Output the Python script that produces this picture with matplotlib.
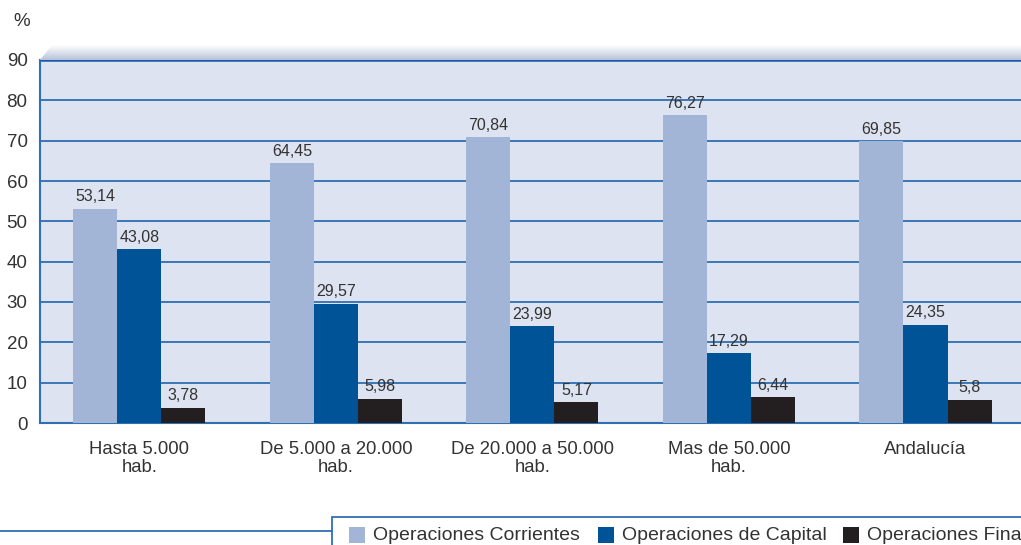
import numpy as np
import matplotlib
matplotlib.use("Agg")
import matplotlib.pyplot as plt
from matplotlib.patches import Rectangle, Polygon
from matplotlib.lines import Line2D

plt.rcParams['font.family'] = ['Liberation Sans', 'DejaVu Sans']

# Data
categories = ["Hasta 5.000\nhab.", "De 5.000 a 20.000\nhab.", "De 20.000 a 50.000\nhab.",
              "Mas de 50.000\nhab.", "Andalucía"]
series_names = ["Operaciones Corrientes", "Operaciones de Capital", "Operaciones Financieras"]
corrientes = [53.14, 64.45, 70.84, 76.27, 69.85]
capital = [43.08, 29.57, 23.99, 17.29, 24.35]
financieras = [3.78, 5.98, 5.17, 6.44, 5.8]
value_text = [["53,14", "64,45", "70,84", "76,27", "69,85"],
              ["43,08", "29,57", "23,99", "17,29", "24,35"],
              ["3,78", "5,98", "5,17", "6,44", "5,8"]]
yticks = [0, 10, 20, 30, 40, 50, 60, 70, 80, 90]

colors = ["#a3b5d7", "#005397", "#231f20"]
grid_blue = "#2f6fb3"
wall = "#dde3f0"
text_col = "#333333"

W, H = 1021, 545
fig = plt.figure(figsize=(W / 100, H / 100), dpi=100)

def fx(px):
    return px / W

def fy(py):
    return 1 - py / H

ax = fig.add_axes([fx(40), fy(423), 1 - fx(40), fy(60) - fy(423)])
ax.set_facecolor(wall)

x = np.arange(len(categories))
width = 0.224
all_series = [corrientes, capital, financieras]
for i, (vals, c) in enumerate(zip(all_series, colors)):
    pos = x + (i - 1) * width
    bars = ax.bar(pos, vals, width, color=c, zorder=3)
    for b, v, t in zip(bars, vals, value_text[i]):
        ax.text(b.get_x() + b.get_width() / 2, v + 1.1, t, ha='center', va='bottom',
                fontsize=11.5, color=text_col, zorder=4)

ax.set_xlim(-0.506, 4.486)
ax.set_ylim(0, 90)
ax.set_yticks(yticks)
ax.set_yticklabels([str(t) for t in yticks], fontsize=13.5, color=text_col)
ax.set_xticks(x)
ax.set_xticklabels(categories, fontsize=13.3, color=text_col, linespacing=1.1)
ax.tick_params(axis='both', length=0)
ax.tick_params(axis='y', pad=9)
ax.tick_params(axis='x', pad=13)
ax.yaxis.grid(True, color=grid_blue, linewidth=1.3, zorder=1)
ax.set_axisbelow(True)
for s in ['top', 'right']:
    ax.spines[s].set_visible(False)
for s in ['left', 'bottom']:
    ax.spines[s].set_color(grid_blue)
    ax.spines[s].set_linewidth(1.5)
ax.axhline(90, color="#1a5ca8", linewidth=1.8, zorder=2)

# Top slanted edge of the wall with gradient
top = fig.add_axes([fx(40), fy(60), 1 - fx(40), fy(45) - fy(60)])
top.set_axis_off()
top.set_xlim(0, 1)
top.set_ylim(0, 1)
grad = np.linspace(0, 1, 64).reshape(-1, 1)
cmap = matplotlib.colors.LinearSegmentedColormap.from_list("g", ["#b7c2d8", "#ffffff"])
im = top.imshow(grad, extent=[0, 1, 0, 1], origin='lower', aspect='auto', cmap=cmap)
slant = 12 / (W - 40)
clip = Polygon([[0, 0], [slant, 1], [1, 1], [1, 0]], closed=True, transform=top.transData)
im.set_clip_path(clip)

fig.text(fx(22), fy(22), "%", fontsize=13.5, color=text_col, ha='center', va='center')

# Legend band at the bottom (cut at the right edge like the source)
fig.add_artist(Line2D([0, fx(332)], [fy(531), fy(531)], color=grid_blue, linewidth=1.3))
fig.add_artist(Rectangle((fx(332), fy(560)), 1, fy(517) - fy(560), facecolor='white',
                         edgecolor=grid_blue, linewidth=1.3))
patch_x = [349, 598, 843]
for px, name, c in zip(patch_x, series_names, colors):
    fig.add_artist(Rectangle((fx(px), fy(543)), fx(16), fy(527) - fy(543), facecolor=c,
                             edgecolor='none'))
    fig.text(fx(px + 24), fy(535), name, fontsize=14, color=text_col, va='center', ha='left')

fig.savefig("out.png", dpi=100)
